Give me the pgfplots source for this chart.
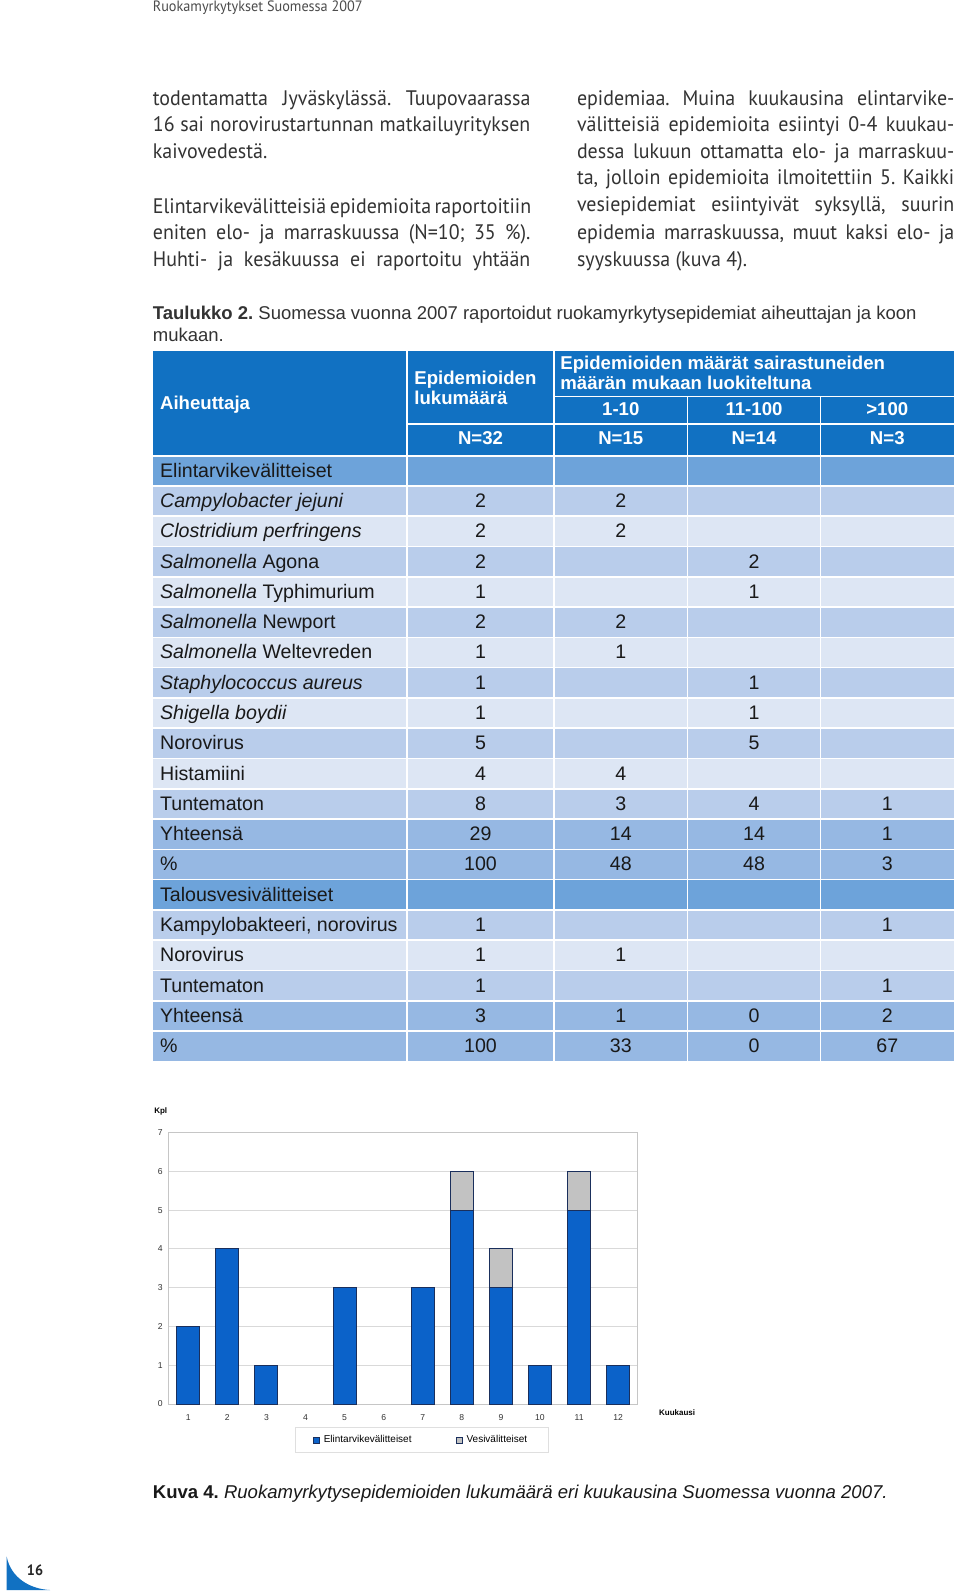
\documentclass[border=0pt]{standalone}
\usepackage{fontspec}
\setmainfont{Liberation Sans}
\newfontfamily\bodyfont[FakeStretch=0.95]{PT Sans}
\usepackage{pgfplots}
\pgfplotsset{compat=1.18}
\frenchspacing

\definecolor{hdrC}{HTML}{1171C2}
\definecolor{secC}{HTML}{6DA3DA}
\definecolor{darkC}{HTML}{B9CDEB}
\definecolor{lightC}{HTML}{DDE6F4}
\definecolor{totC}{HTML}{96B8E3}
\definecolor{barB}{HTML}{0B62C9}
\definecolor{barEdge}{HTML}{1A2F5C}
\definecolor{barG}{HTML}{C2C2C2}
\definecolor{txt}{HTML}{333333}

% 1 px of the page = 0.5pt
\newcommand\bt{\bodyfont\fontsize{10.5}{12}\selectfont}
\newcommand\tf{\fontsize{9.8}{11}\selectfont}
\newcommand\hf{\bfseries\fontsize{9.3}{10}\selectfont}

\newcommand{\trow}[6]{%
  \pgfmathsetmacro{\yy}{477.3+30.28*#1}%
  \node[anchor=base west] at (159.7,\yy) {\tf #2};
  \node[anchor=base] at (480.5,\yy) {\tf #3};
  \node[anchor=base] at (620.8,\yy) {\tf #4};
  \node[anchor=base] at (754,\yy) {\tf #5};
  \node[anchor=base] at (887.3,\yy) {\tf #6};
}

\begin{document}
\begin{tikzpicture}
\begin{scope}[x=0.5pt,y=-0.5pt]
\fill[white] (0,0) rectangle (960,1594);
\useasboundingbox (0,0) rectangle (960,1594);

% running head
\node[anchor=base west, inner sep=0, text=black!70] at (152.5,11.5)
  {\bodyfont\fontsize{7.5}{8}\selectfont Ruokamyrkytykset Suomessa 2007};

% body text, left column
\begin{scope}[every node/.style={anchor=base west, inner sep=0, text=txt}]
\node at (152.5,105.6) {\bt\makebox[188.75pt][s]{todentamatta Jyväskylässä. Tuupovaarassa}};
\node at (152.5,132.0) {\bt\makebox[188.75pt][s]{16 sai norovirustartunnan matkailuyrityksen}};
\node at (152.5,158.5) {\bt kaivovedestä.};
\node at (152.5,213.4) {\bt\makebox[188.75pt][s]{Elintarvikevälitteisiä epidemioita raportoitiin}};
\node at (152.5,239.8) {\bt\makebox[188.75pt][s]{eniten elo- ja marraskuussa (N=10; 35 \%).}};
\node at (152.5,266.3) {\bt\makebox[188.75pt][s]{Huhti- ja kesäkuussa ei raportoitu yhtään}};
% right column
\node at (576.6,105.6) {\bt\makebox[188.65pt][s]{epidemiaa. Muina kuukausina elintarvike-}};
\node at (576.6,132.0) {\bt\makebox[188.65pt][s]{välitteisiä epidemioita esiintyi 0-4 kuukau-}};
\node at (576.6,158.5) {\bt\makebox[188.65pt][s]{dessa lukuun ottamatta elo- ja marraskuu-}};
\node at (576.6,185.0) {\bt\makebox[188.65pt][s]{ta, jolloin epidemioita ilmoitettiin 5. Kaikki}};
\node at (576.6,211.4) {\bt\makebox[188.65pt][s]{vesiepidemiat esiintyivät syksyllä, suurin}};
\node at (576.6,239.8) {\bt\makebox[188.65pt][s]{epidemia marraskuussa, muut kaksi elo- ja}};
\node at (576.6,266.3) {\bt syyskuussa (kuva 4).};

% table caption
\node at (152.5,319.2) {\fontsize{9.25}{10}\selectfont\textbf{Taulukko 2.} Suomessa vuonna 2007 raportoidut ruokamyrkytysepidemiat aiheuttajan ja koon};
\node at (152.5,341.5) {\fontsize{9.25}{10}\selectfont mukaan.};
\end{scope}

% table backgrounds
\fill[hdrC] (152.5,350.8) rectangle (954,455.7);
\foreach \i/\c in {0/secC,1/darkC,2/lightC,3/darkC,4/lightC,5/darkC,6/lightC,7/darkC,8/lightC,9/darkC,
                   10/lightC,11/darkC,12/totC,13/totC,14/secC,15/darkC,16/lightC,17/darkC,18/totC,19/totC}
  \fill[\c] (152.5,{455.7+30.28*\i}) rectangle (954,{455.7+30.28*(\i+1)});
\begin{scope}[white, line width=0.8pt]
\foreach \i in {0,...,19}
  \draw (152.5,{455.7+30.28*\i}) -- (954,{455.7+30.28*\i});
\draw (406.8,350.8) -- (406.8,1061.3);
\draw (554.2,350.8) -- (554.2,1061.3);
\draw (687.4,396.6) -- (687.4,1061.3);
\draw (820.6,396.6) -- (820.6,1061.3);
\draw (554.2,396.6) -- (954,396.6);
\draw (406.8,424) -- (954,424);
\end{scope}

% table header
\begin{scope}[every node/.style={text=white, inner sep=0}]
\node[anchor=base west] at (159.7,409) {\hf Aiheuttaja};
\node[anchor=base west] at (414,384.5) {\hf Epidemioiden};
\node[anchor=base west] at (414,404.9) {\hf lukumäärä};
\node[anchor=base west] at (560,369.3) {\hf Epidemioiden määrät sairastuneiden};
\node[anchor=base west] at (560,389.7) {\hf määrän mukaan luokiteltuna};
\node[anchor=base] at (620.8,415) {\hf 1-10};
\node[anchor=base] at (754,415) {\hf 11-100};
\node[anchor=base] at (887.3,415) {\hf >100};
\node[anchor=base] at (480.5,444.6) {\hf N=32};
\node[anchor=base] at (620.8,444.6) {\hf N=15};
\node[anchor=base] at (754,444.6) {\hf N=14};
\node[anchor=base] at (887.3,444.6) {\hf N=3};
\end{scope}

% table rows
\begin{scope}[every node/.style={inner sep=0, text=black!90}]
\trow{0}{Elintarvikevälitteiset}{}{}{}{}
\trow{1}{\textit{Campylobacter jejuni}}{2}{2}{}{}
\trow{2}{\textit{Clostridium perfringens}}{2}{2}{}{}
\trow{3}{\textit{Salmonella} Agona}{2}{}{2}{}
\trow{4}{\textit{Salmonella} Typhimurium}{1}{}{1}{}
\trow{5}{\textit{Salmonella} Newport}{2}{2}{}{}
\trow{6}{\textit{Salmonella} Weltevreden}{1}{1}{}{}
\trow{7}{\textit{Staphylococcus aureus}}{1}{}{1}{}
\trow{8}{\textit{Shigella boydii}}{1}{}{1}{}
\trow{9}{Norovirus}{5}{}{5}{}
\trow{10}{Histamiini}{4}{4}{}{}
\trow{11}{Tuntematon}{8}{3}{4}{1}
\trow{12}{Yhteensä}{29}{14}{14}{1}
\trow{13}{\%}{100}{48}{48}{3}
\trow{14}{Talousvesivälitteiset}{}{}{}{}
\trow{15}{Kampylobakteeri, norovirus}{1}{}{}{1}
\trow{16}{Norovirus}{1}{1}{}{}
\trow{17}{Tuntematon}{1}{}{}{1}
\trow{18}{Yhteensä}{3}{1}{0}{2}
\trow{19}{\%}{100}{33}{0}{67}
\end{scope}

% figure caption
\node[anchor=base west, inner sep=0, text=black!90] at (152.5,1498)
  {\fontsize{9.27}{11}\selectfont\textbf{Kuva 4.} \textit{Ruokamyrkytysepidemioiden lukumäärä eri kuukausina Suomessa vuonna 2007.}};

% page number
\fill[hdrC] (6.7,1556.7) -- (6.7,1590) -- (50,1590) .. controls (30,1589) and (11,1578) .. cycle;
\node[anchor=center, inner sep=0, text=black!85] at (35,1570.7) {\bodyfont\bfseries\fontsize{7.5}{9}\selectfont 16};
\end{scope}

\begin{axis}[
  at={(84.35pt,-702pt)}, anchor=south west,
  scale only axis, width=234.5pt, height=135.75pt,
  xmin=0.5, xmax=12.5, ymin=0, ymax=7,
  ybar stacked, bar width=11.5pt,
  xtick={1,...,12}, ytick={0,...,7},
  major tick length=0pt,
  ymajorgrids, grid style={gray!30, line width=0.5pt},
  axis line style={gray!45, line width=0.5pt},
  tick label style={font=\fontsize{4.3}{5}\selectfont, text=black!80},
  yticklabel style={xshift=0.5pt},
  xticklabel style={yshift=-1.5pt},
  /pgf/number format/assume math mode=true,
  legend columns=2,
  legend style={at={(0.540,-0.1326)}, anchor=center, draw=gray!25, line width=0.5pt,
    font=\fontsize{5}{6}\selectfont, inner xsep=8.5pt, inner ysep=1.5pt,
    /tikz/every even column/.append style={column sep=20pt}},
  legend image code/.code={\draw[#1, line width=0.3pt] (0pt,-1.6pt) rectangle (3.2pt,1.6pt);},
  clip=false,
]
\addplot[fill=barB, draw=barEdge, line width=0.5pt] coordinates {
  (1,2) (2,4) (3,1) (4,0) (5,3) (6,0) (7,3) (8,5) (9,3) (10,1) (11,5) (12,1)};
\addlegendentry{Elintarvikevälitteiset}
\addplot[fill=barG, draw=barEdge, line width=0.5pt] coordinates {
  (1,0) (2,0) (3,0) (4,0) (5,0) (6,0) (7,0) (8,1) (9,1) (10,0) (11,1) (12,0)};
\addlegendentry{Vesivälitteiset}
\node[font=\bfseries\fontsize{4}{5}\selectfont] at (rel axis cs:-0.017,1.0766) {Kpl};
\node[font=\bfseries\fontsize{4}{5}\selectfont] at (rel axis cs:1.084,-0.032) {Kuukausi};
\end{axis}
\end{tikzpicture}
\end{document}
